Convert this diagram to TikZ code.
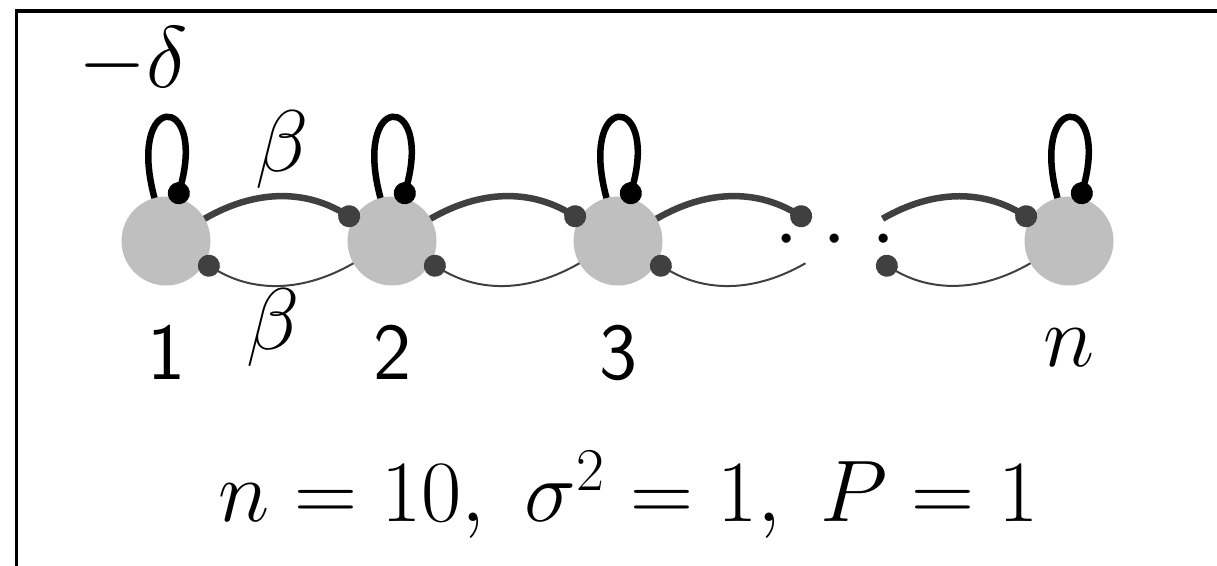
\documentclass[tikz,border=0pt]{standalone}
\usetikzlibrary{arrows.meta}
\def\rowy{-241}
\def\numy{-380}
\def\tipsize{2.2mm}

\begin{document}
\begin{tikzpicture}[x=0.1mm,y=0.1mm,
		font=\fontsize{23}{27}\selectfont,
		vtx/.style={circle,fill=black!25,minimum size=8.9mm,inner sep=0pt,outer sep=0pt},
		gap/.style={circle,minimum size=8.9mm,inner sep=0pt,outer sep=0pt},
		selfw/.style={line width=0.65mm,-{Circle[length=\tipsize]},shorten >=-0.6mm,
			out=105,in=75,distance=11mm},
		fw/.style={black!75,line width=0.65mm,-{Circle[length=\tipsize]},shorten >=-0.6mm,bend left=30},
		bw/.style={black!75,line width=0.2mm,-{Circle[length=\tipsize]},shorten >=-0.6mm,bend left=30},
		num/.style={font=\fontsize{23}{27}\selectfont\sffamily,anchor=base,inner sep=0pt},
		sym/.style={anchor=base,inner sep=0pt}]
		
		\useasboundingbox (0,0) rectangle (1217,-566);
		\clip (0,0) rectangle (1217,-566);
		\draw[line width=0.32mm] (16.5,-11) rectangle (1400,-700);
		
		% ============ Kette der Knoten ============
		\node[vtx] (v1) at (166,\rowy) {};
		\node[vtx] (v2) at (392,\rowy) {};
		\node[vtx] (v3) at (618,\rowy) {};
		\node[gap] (vd) at (844,\rowy)
			{\makebox[0pt]{\raisebox{-0.4mm}{${\cdot}\;{\cdot}\;{\cdot}$}\hspace*{1.8mm}}};
		\node[vtx] (vn) at (1069,\rowy) {};
		
		% Schleifen
		\draw[selfw] (v1) to (v1);
		\draw[selfw] (v2) to (v2);
		\draw[selfw] (v3) to (v3);
		\draw[selfw] (vn) to (vn);
		
		% oben dick nach rechts, unten duenn nach links
		\draw[fw] (v1) to (v2);
		\draw[fw] (v2) to (v3);
		\draw[fw] (v3) to (vd);
		\draw[fw] (vd) to (vn);
		\draw[bw] (v2) to (v1);
		\draw[bw] (v3) to (v2);
		\draw[bw] (vd) to (v3);
		\draw[bw] (vn) to (vd);
		
		% ============ Beschriftung ============
		\node[sym,anchor=base west] (delta) at (78,-88) {$-\delta$};
		\node[sym] (btop) at (282,-172) {$\beta$};
		\node[sym] (bbot) at (273,-350) {$\beta$};
		\node[num] (n1) at (166,\numy) {1};
		\node[num] (n2) at (392,\numy) {2};
		\node[num] (n3) at (618,\numy) {3};
		\node[sym] (nn) at (1069,-367) {$n$};
		\node[sym] (par) at (629,-522) {$n=10,\ \sigma^2=1,\ P=1$};
		
	\end{tikzpicture}
\end{document}
